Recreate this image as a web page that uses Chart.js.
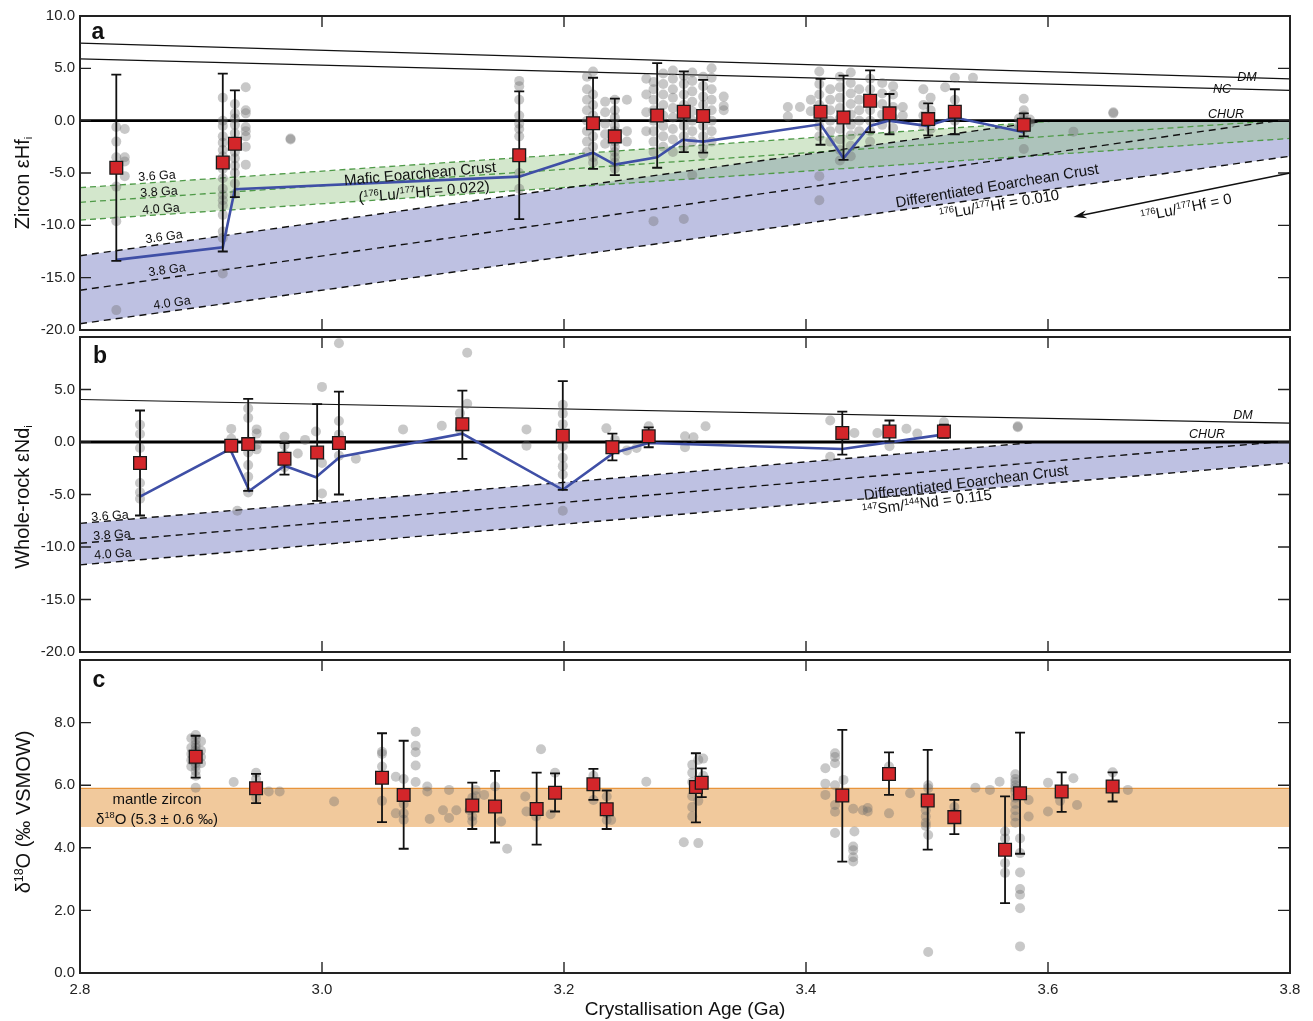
<!DOCTYPE html>
<html>
<head>
<meta charset="utf-8">
<script src="https://cdn.jsdelivr.net/npm/chart.js@4.4.1/dist/chart.umd.min.js"></script>
<style>
  body { margin: 0; background: #fff; font-family: "Liberation Sans", Arial, Helvetica, sans-serif; }
  #wrap { position: relative; width: 1313px; height: 1021px; overflow: hidden; }
  canvas { position: absolute; left: 0; top: 0; }
  .r { position: absolute; white-space: nowrap; line-height: 1; color: #111;
       transform: translate(-50%, -50%) rotate(var(--a, 0deg)); }
  .s { font-size: 0.62em; vertical-align: 0.55em; }
  .b { font-size: 0.55em; vertical-align: -0.35em; }
  .it { font-style: italic; font-size: 12.5px; }
  .yt { font-size: 20px; --a: -90deg; }
  .pl { font-size: 23px; font-weight: bold; }
  .ga { font-size: 12.5px; }
  .lab { font-size: 15px; }
</style>
</head>
<body>
<div id="wrap">
  <canvas id="ca" width="1313" height="1021"></canvas>
  <canvas id="cb" width="1313" height="1021"></canvas>
  <canvas id="cc" width="1313" height="1021"></canvas>

  <!-- axis titles -->
  <div class="r yt" style="left:23px;top:183px">Zircon εHf<span class="b">i</span></div>
  <div class="r yt" style="left:23px;top:497px">Whole-rock εNd<span class="b">i</span></div>
  <div class="r yt" style="left:23px;top:812px">δ<span class="s">18</span>O (‰ VSMOW)</div>

  <!-- panel a -->
  <div class="r pl" style="left:98px;top:31px">a</div>
  <div class="r ga" style="left:157px;top:176px;--a:-4deg">3.6 Ga</div>
  <div class="r ga" style="left:159px;top:192px;--a:-4deg">3.8 Ga</div>
  <div class="r ga" style="left:161px;top:209px;--a:-4deg">4.0 Ga</div>
  <div class="r ga" style="left:164px;top:237px;--a:-8deg">3.6 Ga</div>
  <div class="r ga" style="left:167px;top:270px;--a:-8deg">3.8 Ga</div>
  <div class="r ga" style="left:172px;top:303px;--a:-8deg">4.0 Ga</div>
  <div class="r lab" style="left:420px;top:173px;--a:-5deg">Mafic Eoarchean Crust</div>
  <div class="r lab" style="left:424px;top:191px;--a:-5deg">(<span class="s">176</span>Lu/<span class="s">177</span>Hf = 0.022)</div>
  <div class="r lab" style="left:997px;top:185px;--a:-9.5deg">Differentiated Eoarchean Crust</div>
  <div class="r lab" style="left:999px;top:204px;--a:-9.5deg"><span class="s">176</span>Lu/<span class="s">177</span>Hf = 0.010</div>
  <div class="r lab" style="left:1186px;top:207px;--a:-11.5deg"><span class="s">176</span>Lu/<span class="s">177</span>Hf = 0</div>
  <div class="r it" style="left:1247px;top:77px">DM</div>
  <div class="r it" style="left:1222px;top:89px">NC</div>
  <div class="r it" style="left:1226px;top:114px">CHUR</div>

  <!-- panel b -->
  <div class="r pl" style="left:100px;top:355px">b</div>
  <div class="r ga" style="left:110px;top:516px;--a:-4deg">3.6 Ga</div>
  <div class="r ga" style="left:112px;top:535px;--a:-4deg">3.8 Ga</div>
  <div class="r ga" style="left:113px;top:554px;--a:-4deg">4.0 Ga</div>
  <div class="r lab" style="left:966px;top:482px;--a:-7deg">Differentiated Eoarchean Crust</div>
  <div class="r lab" style="left:927px;top:502px;--a:-7deg"><span class="s">147</span>Sm/<span class="s">144</span>Nd = 0.115</div>
  <div class="r it" style="left:1243px;top:415px">DM</div>
  <div class="r it" style="left:1207px;top:434px">CHUR</div>

  <!-- panel c -->
  <div class="r pl" style="left:99px;top:679px">c</div>
  <div class="r lab" style="left:157px;top:798px">mantle zircon</div>
  <div class="r lab" style="left:157px;top:818px">δ<span class="s">18</span>O (5.3 ± 0.6 ‰)</div>
</div>

<script>
// ---------- panel a : zircon εHf ----------
const hfDM = [[2.8, 7.4], [3.8, 4.0]];
const hfNC = [[2.8, 5.9], [3.8, 2.9]];
const chur = [[2.8, 0], [3.8, 0]];
// mafic Eoarchean crust (Lu/Hf 0.022)
const mafic36 = [[2.8, -6.4], [3.61, 0]];
const mafic38 = [[2.8, -7.8], [3.79, 0]];
const mafic40 = [[2.8, -9.5], [3.8, -1.7]];
const maficTop = [[2.8, -6.4], [3.61, 0], [3.8, 0]];
const maficLow = [[2.8, -9.5], [3.61, -3.18], [3.8, -1.7]];
// differentiated Eoarchean crust (Lu/Hf 0.010)
const diff36 = [[2.8, -12.9], [3.6, 0]];
const diff38 = [[2.8, -16.2], [3.79, 0]];
const diff40 = [[2.8, -19.4], [3.8, -3.4]];
const diffTop = [[2.8, -12.9], [3.6, 0], [3.8, 0]];
const diffLow = [[2.8, -19.4], [3.6, -6.6], [3.8, -3.4]];
const hfArrow = [[3.8, -5.0], [3.621, -9.2]];

const hfAge  = [2.830, 2.918, 2.928, 3.163, 3.224, 3.242, 3.277, 3.299, 3.315, 3.412, 3.431, 3.453, 3.469, 3.501, 3.523, 3.580];
const hfMean = [-4.5, -4.0, -2.2, -3.3, -0.25, -1.5, 0.5, 0.85, 0.45, 0.85, 0.3, 1.9, 0.7, 0.15, 0.85, -0.4];
const hfHi   = [4.4, 4.5, 2.9, 2.8, 4.1, 2.1, 5.5, 4.7, 3.9, 4.0, 4.3, 4.8, 2.55, 1.65, 3.0, 0.7];
const hfLo   = [-13.4, -12.5, -7.3, -9.4, -4.6, -5.2, -4.5, -3.0, -3.05, -2.3, -3.75, -1.1, -1.3, -1.4, -1.3, -1.5];
const hfMinAge = [2.830, 2.918, 2.928, 3.163, 3.224, 3.242, 3.277, 3.298, 3.315, 3.412, 3.431, 3.453, 3.468, 3.500, 3.523, 3.580];
const hfMin    = [-13.3, -12.1, -6.55, -5.35, -3.06, -4.2, -3.5, -1.84, -2.0, -0.35, -3.6, -0.5, 0.0, -0.5, 0.3, -1.1];

// individual zircon analyses: [age, values]
const hfSpots = [
  [2.830, [-0.6, -2.0, -3.5, -4.6, -6.3, -9.6, -18.1]],
  [2.837, [-0.8, -3.5, -3.9, -5.3]],
  [2.918, [2.2, 0.0, -0.5, -1.5, -2.1, -2.8, -3.4, -4.0, -4.6, -5.5, -6.5, -7.1, -7.6, -8.1, -9.0, -10.6, -11.2, -14.6]],
  [2.928, [1.6, 0.7, 0.2, -0.4, -1.2, -2.0, -3.0, -3.6, -4.3, -5.0, -6.0, -7.0]],
  [2.937, [3.2, 1.0, 0.7, -0.6, -1.0, -1.5, -2.5, -4.2]],
  [2.974, [-1.7, -1.8]],
  [3.163, [3.8, 3.3, 2.0, 0.5, -0.3, -0.8, -1.5, -3.5, -5.0, -6.5]],
  [3.219, [4.2, 3.0, 2.0, 1.0, 0.0, -1.0, -2.0, -3.0]],
  [3.224, [4.7, 2.5, 1.5, 0.5, -0.5, -1.5, -2.5, -3.5, -4.0]],
  [3.234, [1.8, 0.8, -0.3, -1.3, -2.2]],
  [3.242, [2.0, 1.0, 0.3, -0.5, -1.0, -1.5, -2.0, -2.5, -3.0, -3.5, -4.0, -4.6]],
  [3.252, [2.0, -1.0, -2.0]],
  [3.268, [4.0, 2.5, 0.8, -1.0]],
  [3.274, [3.7, 3.0, 2.0, 1.0, 0.0, -1.0, -2.0, -3.0, -9.6]],
  [3.282, [4.5, 3.5, 2.5, 1.5, 0.5, -0.5, -1.5, -2.5]],
  [3.290, [4.8, 4.0, 3.0, 2.2, 1.2, 0.3, -0.8, -1.8, -3.0]],
  [3.299, [4.3, 3.5, 2.5, 1.5, 0.5, -0.5, -1.5, -2.5, -9.4]],
  [3.306, [4.6, 3.8, 2.8, 1.8, 0.9, 0.0, -1.0, -2.0, -5.2]],
  [3.315, [4.2, 3.3, 2.3, 1.5, 0.5, -0.5, -1.5, -2.5, -3.2]],
  [3.322, [5.0, 4.1, 3.0, 2.0, 1.0, 0.0, -1.0, -2.0]],
  [3.332, [2.3, 1.4, 1.0]],
  [3.385, [1.3, 0.4]],
  [3.395, [1.3]],
  [3.404, [0.9, 2.0]],
  [3.411, [4.7, 3.5, 2.5, 1.5, 0.5, -0.5, -1.5, -5.3, -7.6]],
  [3.420, [3.0, 2.0, 1.0, 0.0, -1.0, -2.0]],
  [3.428, [4.2, 3.2, 2.2, 1.2, 0.2, -0.8, -1.8, -2.8, -3.8]],
  [3.437, [4.6, 3.6, 2.6, 1.6, 0.6, -0.4, -1.4, -2.4, -3.4]],
  [3.444, [3.0, 2.0, 1.0, 0.0, -1.0]],
  [3.453, [4.0, 3.0, 2.0, 1.0, 0.0, -1.0, -2.0]],
  [3.463, [3.6, 2.6, 1.6, 0.6, -0.4]],
  [3.472, [3.3, 2.5, 1.3, 0.3, -0.7]],
  [3.480, [1.3, 0.5]],
  [3.497, [3.0, 1.5, 0.5, -0.5]],
  [3.503, [2.2, 1.0, 0.0, -0.8]],
  [3.515, [3.2]],
  [3.523, [4.1, 2.0, 1.0, 0.0]],
  [3.538, [4.1]],
  [3.576, [0.2, -0.5]],
  [3.580, [2.1, 1.0, 0.5, 0.1, -0.8, -2.7]],
  [3.585, [0.1, -0.2]],
  [3.621, [-1.05]],
  [3.654, [0.7, 0.8]]
];

// ---------- panel b : whole-rock εNd ----------
const ndDM = [[2.8, 4.05], [3.8, 1.8]];
const nd36 = [[2.8, -7.75], [3.594, 0]];
const nd38 = [[2.8, -9.65], [3.79, 0]];
const nd40 = [[2.8, -11.7], [3.8, -2.0]];
const ndTop = [[2.8, -7.75], [3.594, 0], [3.8, 0]];
const ndLow = [[2.8, -11.7], [3.594, -3.97], [3.8, -2.0]];

const ndAge  = [2.8496, 2.925, 2.939, 2.969, 2.996, 3.014, 3.116, 3.199, 3.240, 3.270, 3.430, 3.469, 3.514];
const ndMean = [-2.0, -0.35, -0.2, -1.6, -1.0, -0.1, 1.7, 0.6, -0.5, 0.55, 0.85, 1.0, 1.0];
const ndHi   = [3.0, -0.35, 4.1, -0.1, 3.6, 4.8, 4.9, 5.8, 0.8, 1.4, 2.9, 2.05, 1.65];
const ndLo   = [-7.0, -0.35, -4.65, -3.1, -5.6, -5.0, -1.6, -4.55, -1.75, -0.5, -1.2, 0.05, 0.4];
const ndMinAge = [2.8496, 2.924, 2.940, 2.969, 2.995, 3.015, 3.116, 3.199, 3.241, 3.270, 3.430, 3.513];
const ndMin    = [-5.2, -0.67, -4.65, -2.26, -3.35, -1.4, 0.8, -4.55, -1.05, -0.1, -0.67, 0.7];

const ndSpots = [
  [2.8496, [1.65, 0.77, -0.57, -2.1, -3.9, -4.8, -5.4]],
  [2.925, [1.25, 0.3]],
  [2.930, [-6.55]],
  [2.939, [3.2, 2.3, -1.0, -2.2, -3.3, -4.8]],
  [2.946, [1.2, 0.8, -0.25, -0.7]],
  [2.969, [0.5, -0.3, -1.2, -2.4]],
  [2.980, [-1.1]],
  [2.986, [0.2]],
  [2.995, [1.0, -1.05]],
  [3.000, [5.25, -2.0, -4.9]],
  [3.014, [9.4, 2.0, 0.7, -1.3]],
  [3.028, [-1.6]],
  [3.067, [1.2]],
  [3.099, [1.55]],
  [3.114, [2.75, 1.2]],
  [3.120, [8.5, 3.65]],
  [3.169, [1.2, -0.35]],
  [3.199, [3.55, 2.7, 1.7, -0.4, -1.5, -2.3, -3.1, -6.55]],
  [3.235, [1.3]],
  [3.242, [0.2]],
  [3.252, [-0.8]],
  [3.260, [-0.57]],
  [3.270, [1.5]],
  [3.300, [0.55, -0.5]],
  [3.307, [0.45]],
  [3.317, [1.5]],
  [3.420, [2.05, -1.4]],
  [3.440, [0.85]],
  [3.459, [0.85]],
  [3.469, [-0.4, 0.85]],
  [3.483, [1.27]],
  [3.492, [0.8]],
  [3.514, [1.9]],
  [3.575, [1.4, 1.5]]
];

// ---------- panel c : zircon δ18O ----------
const mantleLow = [[2.8, 4.7], [3.8, 4.7]];
const mantleTop = [[2.8, 5.9], [3.8, 5.9]];

const oAge  = [2.8956, 2.9455, 3.0496, 3.0675, 3.1242, 3.143, 3.1774, 3.1926, 3.2243, 3.2353, 3.309, 3.3138, 3.430, 3.4686, 3.5006, 3.5226, 3.5645, 3.5769, 3.6113, 3.6534];
const oMean = [6.91, 5.90, 6.24, 5.69, 5.35, 5.32, 5.24, 5.76, 6.03, 5.23, 5.94, 6.08, 5.67, 6.36, 5.51, 4.98, 3.94, 5.74, 5.80, 5.96];
const oHi   = [7.58, 6.36, 7.66, 7.42, 6.08, 6.46, 6.40, 6.38, 6.52, 5.83, 7.02, 6.54, 7.77, 7.05, 7.13, 5.53, 5.64, 7.68, 6.41, 6.41];
const oLo   = [6.24, 5.43, 4.82, 3.97, 4.60, 4.17, 4.10, 5.16, 5.53, 4.60, 4.81, 5.62, 3.56, 5.69, 3.94, 4.44, 2.23, 3.81, 5.15, 5.48];

const oSpots = [
  [2.8956, [7.6, 7.45, 7.3, 7.2, 7.1, 7.0, 6.9, 6.8, 6.7, 6.6, 6.45, 6.3, 5.92]],
  [2.892, [7.5, 7.2, 7.0, 6.8, 6.6]],
  [2.900, [7.4, 7.1, 6.9, 6.7]],
  [2.927, [6.1]],
  [2.9455, [6.4, 6.2, 5.6]],
  [2.956, [5.8]], [2.965, [5.8]],
  [3.010, [5.48]],
  [3.0496, [7.07, 7.0, 6.6, 6.25, 5.5]],
  [3.061, [6.27, 5.1]],
  [3.0675, [6.2, 5.4, 5.1, 4.9]],
  [3.0774, [7.71, 7.26, 7.05, 6.63, 6.1]],
  [3.087, [5.96, 5.8]],
  [3.089, [4.92]],
  [3.100, [5.2]],
  [3.105, [5.85, 4.95]],
  [3.111, [5.2]],
  [3.122, [5.2]],
  [3.127, [5.85, 5.65]],
  [3.1242, [5.0, 4.85, 5.4, 5.6]],
  [3.134, [5.69]],
  [3.143, [5.96]],
  [3.148, [4.84]],
  [3.153, [3.97]],
  [3.168, [5.64]],
  [3.169, [5.16]],
  [3.177, [5.0]],
  [3.181, [7.15]],
  [3.189, [5.07]],
  [3.1926, [6.4, 5.72]],
  [3.2243, [5.53, 6.3]],
  [3.2353, [5.64, 4.89, 5.1]],
  [3.239, [4.89]],
  [3.268, [6.11]],
  [3.299, [4.18]],
  [3.306, [6.65, 6.4, 6.1, 5.65, 5.3, 5.0]],
  [3.311, [6.81, 4.15, 5.5]],
  [3.315, [6.85, 6.3]],
  [3.416, [6.54, 6.05, 5.69]],
  [3.424, [7.02, 6.9, 6.7, 5.37, 5.15, 4.47, 6.0]],
  [3.431, [6.17]],
  [3.439, [4.04, 3.92, 3.56, 3.7, 5.25]],
  [3.440, [4.52]],
  [3.447, [5.2]],
  [3.451, [5.27, 5.16]],
  [3.4686, [6.6, 5.1]],
  [3.486, [5.74]],
  [3.499, [5.6, 5.4, 5.2, 5.0, 4.8, 4.7]],
  [3.501, [6.0, 5.9, 4.41, 0.67]],
  [3.5226, [5.3, 5.1]],
  [3.540, [5.92]],
  [3.552, [5.85]],
  [3.560, [6.11]],
  [3.5645, [4.52, 4.3, 3.51, 3.2]],
  [3.573, [6.35, 6.2, 6.1, 6.0, 5.9, 5.8, 5.6, 5.4, 5.2, 5.0, 4.8]],
  [3.5769, [4.3, 3.83, 3.21, 2.68, 2.5, 2.07, 0.85]],
  [3.584, [5.53, 5.0]],
  [3.600, [6.08, 5.16]],
  [3.610, [5.5]],
  [3.621, [6.22]],
  [3.624, [5.37]],
  [3.6534, [6.41]],
  [3.666, [5.85]]
];

const xInnerTicks = [3.0, 3.2, 3.4, 3.6];

// ---------- helpers ----------
const P = arr => arr.map(([x, y]) => ({x, y}));
const XY = (xs, ys) => xs.map((x, i) => ({x, y: ys[i]}));
const flat = groups => groups.flatMap(([x, vals]) => vals.map(y => ({x, y})));

function line(points, color, width, order, extra) {
  return Object.assign({data: points, borderColor: color, borderWidth: width, pointRadius: 0,
    fill: false, tension: 0, order}, extra || {});
}
function greyDots(points) {
  return {data: points, showLine: false, pointRadius: 5, pointBackgroundColor: 'rgba(110,110,110,0.38)',
    pointBorderWidth: 0, pointBorderColor: 'rgba(0,0,0,0)', order: 2};
}
function means(points, lo, hi) {
  return {data: points, showLine: false, pointStyle: 'rect', pointRadius: 9,
    pointBackgroundColor: '#d3262a', pointBorderColor: '#1a1a1a', pointBorderWidth: 1.3,
    errLo: lo, errHi: hi, order: 0};
}
const DASH = [7, 5];
const GDASH = [6, 4];

// frame, inward ticks and the arrow
const framePlugin = {
  id: 'frame',
  afterDatasetsDraw(chart) {
    const {ctx, chartArea: a, scales: {x, y}} = chart;
    ctx.save();
    ctx.strokeStyle = '#222';
    ctx.lineWidth = 1.4;
    ctx.beginPath();
    xInnerTicks.forEach(v => {
      const px = x.getPixelForValue(v);
      ctx.moveTo(px, a.top); ctx.lineTo(px, a.top + 11);
      ctx.moveTo(px, a.bottom); ctx.lineTo(px, a.bottom - 11);
    });
    y.ticks.forEach(t => {
      const py = y.getPixelForValue(t.value);
      ctx.moveTo(a.left, py); ctx.lineTo(a.left + 11, py);
      ctx.moveTo(a.right, py); ctx.lineTo(a.right - 12, py);
    });
    ctx.stroke();
    ctx.lineWidth = 2;
    ctx.strokeRect(a.left, a.top, a.right - a.left, a.bottom - a.top);

    const arrow = chart.options.plugins.frame && chart.options.plugins.frame.arrow;
    if (arrow) {
      const x1 = x.getPixelForValue(arrow[0][0]), y1 = y.getPixelForValue(arrow[0][1]);
      const x2 = x.getPixelForValue(arrow[1][0]), y2 = y.getPixelForValue(arrow[1][1]);
      const ang = Math.atan2(y2 - y1, x2 - x1);
      ctx.lineWidth = 1.4;
      ctx.strokeStyle = '#111';
      ctx.beginPath(); ctx.moveTo(x1, y1); ctx.lineTo(x2 - 6 * Math.cos(ang), y2 - 6 * Math.sin(ang)); ctx.stroke();
      ctx.fillStyle = '#111';
      ctx.beginPath();
      ctx.moveTo(x2, y2);
      ctx.lineTo(x2 - 14 * Math.cos(ang - 0.3), y2 - 14 * Math.sin(ang - 0.3));
      ctx.lineTo(x2 - 9 * Math.cos(ang), y2 - 9 * Math.sin(ang));
      ctx.lineTo(x2 - 14 * Math.cos(ang + 0.3), y2 - 14 * Math.sin(ang + 0.3));
      ctx.closePath(); ctx.fill();
    }
    ctx.restore();
  }
};

// error bars drawn just beneath the mean squares
const errPlugin = {
  id: 'errbars',
  beforeDatasetDraw(chart, args) {
    const ds = chart.data.datasets[args.index];
    if (!ds.errLo) return;
    const {ctx, scales: {x, y}} = chart;
    ctx.save();
    ctx.strokeStyle = '#111';
    ctx.lineWidth = 1.8;
    ds.data.forEach((p, i) => {
      const px = x.getPixelForValue(p.x);
      const lo = y.getPixelForValue(ds.errLo[i]), hi = y.getPixelForValue(ds.errHi[i]);
      if (Math.abs(lo - hi) < 1) return;
      ctx.beginPath();
      ctx.moveTo(px, lo); ctx.lineTo(px, hi);
      ctx.moveTo(px - 5, lo); ctx.lineTo(px + 5, lo);
      ctx.moveTo(px - 5, hi); ctx.lineTo(px + 5, hi);
      ctx.stroke();
    });
    ctx.restore();
  }
};

const tickFont = {family: '"Liberation Sans", Arial, Helvetica, sans-serif', size: 15};

function makePanel(id, datasets, yCfg, pad, showX, arrow) {
  new Chart(document.getElementById(id), {
    type: 'line',
    data: {datasets},
    plugins: [framePlugin, errPlugin],
    options: {
      responsive: false,
      animation: false,
      events: [],
      layout: {padding: {left: 0, right: 23, top: pad.top, bottom: pad.bottom}},
      plugins: {legend: {display: false}, tooltip: {enabled: false}, frame: {arrow}},
      scales: {
        x: {
          type: 'linear', min: 2.8, max: 3.8, display: showX,
          grid: {display: false, drawTicks: false}, border: {display: false},
          ticks: {stepSize: 0.2, padding: 8, color: '#222', font: tickFont, maxRotation: 0,
                  callback: v => v.toFixed(1)},
          title: {display: showX, text: 'Crystallisation Age (Ga)', color: '#111', padding: {top: 0, bottom: 0},
                  font: {family: tickFont.family, size: 19}},
          afterFit: s => { if (showX) s.height = 48; }
        },
        y: {
          min: yCfg.min, max: yCfg.max,
          grid: {display: false, drawTicks: false}, border: {display: false},
          ticks: {stepSize: yCfg.step, padding: 5, color: '#222', font: tickFont,
                  callback: v => (yCfg.hideTop && v === yCfg.max) ? '' : v.toFixed(1)},
          afterFit: s => { s.width = 80; }
        }
      }
    }
  });
}

// ---------- build panel a ----------
const dsA = [
  line(P(diffLow), 'rgba(0,0,0,0)', 0, 12),                                                  // 0
  line(P(diffTop), 'rgba(0,0,0,0)', 0, 11, {fill: {target: 0}, backgroundColor: '#bec1e2'}), // 1
  line(P(maficLow), 'rgba(0,0,0,0)', 0, 10),                                                 // 2
  line(P(maficTop), 'rgba(0,0,0,0)', 0, 9, {fill: {target: 2}, backgroundColor: 'rgba(150,198,133,0.42)'}), // 3
  line(P(mafic36), '#4f9a48', 1.3, 8, {borderDash: GDASH}),
  line(P(mafic38), '#4f9a48', 1.3, 8, {borderDash: GDASH}),
  line(P(mafic40), '#4f9a48', 1.3, 8, {borderDash: GDASH}),
  line(P(diff36), '#111', 1.4, 7, {borderDash: DASH}),
  line(P(diff38), '#111', 1.4, 7, {borderDash: DASH}),
  line(P(diff40), '#111', 1.4, 7, {borderDash: DASH}),
  line(P(hfDM), '#111', 1.2, 6),
  line(P(hfNC), '#111', 1.2, 6),
  line(P(chur), '#000', 2.8, 5),
  greyDots(flat(hfSpots)),
  line(XY(hfMinAge, hfMin), '#3f4fa6', 2.6, 1),
  means(XY(hfAge, hfMean), hfLo, hfHi)
];
makePanel('ca', dsA, {min: -20, max: 10, step: 5, hideTop: false}, {top: 16, bottom: 691}, false, hfArrow);

// ---------- build panel b ----------
const dsB = [
  line(P(ndLow), 'rgba(0,0,0,0)', 0, 12),                                                   // 0
  line(P(ndTop), 'rgba(0,0,0,0)', 0, 11, {fill: {target: 0}, backgroundColor: '#bec1e2'}), // 1
  line(P(nd36), '#111', 1.4, 7, {borderDash: DASH}),
  line(P(nd38), '#111', 1.4, 7, {borderDash: DASH}),
  line(P(nd40), '#111', 1.4, 7, {borderDash: DASH}),
  line(P(ndDM), '#111', 1.2, 6),
  line(P(chur), '#000', 2.8, 5),
  greyDots(flat(ndSpots)),
  line(XY(ndMinAge, ndMin), '#3f4fa6', 2.6, 1),
  means(XY(ndAge, ndMean), ndLo, ndHi)
];
makePanel('cb', dsB, {min: -20, max: 10, step: 5, hideTop: true}, {top: 337, bottom: 369}, false, null);

// ---------- build panel c ----------
const dsC = [
  line(P(mantleLow), '#e8953c', 1.3, 12),                                                      // 0
  line(P(mantleTop), '#e8953c', 1.3, 11, {fill: {target: 0}, backgroundColor: '#f1c99c'}),    // 1
  greyDots(flat(oSpots)),
  means(XY(oAge, oMean), oLo, oHi)
];
makePanel('cc', dsC, {min: 0, max: 10, step: 2, hideTop: true}, {top: 660, bottom: 0}, true, null);
</script>
</body>
</html>
